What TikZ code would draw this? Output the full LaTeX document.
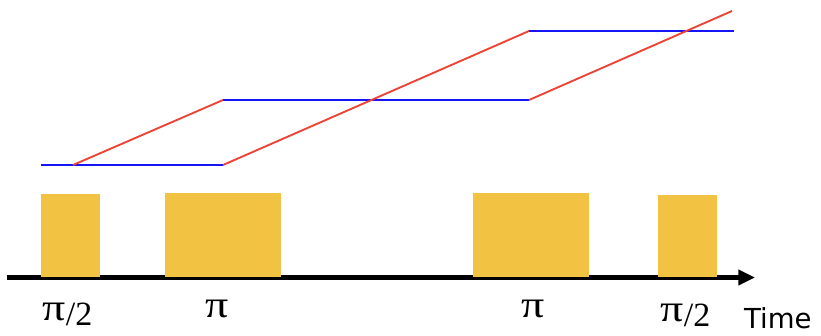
\documentclass[tikz,border=0pt]{standalone}
\usepackage{fontspec}
\setmainfont{Liberation Serif}
\newfontfamily\timefont{DejaVu Sans}
\usepackage{graphicx}
\usepackage{xcolor}
\usepackage{tikz}
\usetikzlibrary{arrows.meta}
\definecolor{pulsegold}{HTML}{F2C242}
\definecolor{armred}{HTML}{EC4335}
\definecolor{armblue}{HTML}{1414F5}
\newcommand{\pisym}{\scalebox{1.35}[1.12]{π}}

\begin{document}
\begin{tikzpicture}[x=0.03cm,y=-0.03cm]
\tikzstyle{pulse}=[fill=pulsegold,draw=none,inner sep=0,anchor=south west,minimum height=2.5cm]
\tikzstyle{lbl}=[anchor=base,inner sep=0,font=\fontsize{29}{31}\selectfont]
\tikzstyle{upper}=[armred,line width=1.6pt]
\tikzstyle{lower}=[armblue,line width=2pt]
\useasboundingbox (0,0) rectangle (821,335);
\coordinate (t0) at (7,277.5);
\coordinate (t1) at (755,277.5);
\draw[line width=0.15cm,-{Triangle[length=0.5cm,width=0.45cm]}] (t0) -- (t1);
\node[pulse,minimum width=1.77cm,minimum height=2.49cm] (p1) at (41,277) {};
\node[pulse,minimum width=3.48cm,minimum height=2.52cm] (p2) at (165,277) {};
\node[pulse,minimum width=3.48cm,minimum height=2.52cm] (p3) at (473,277) {};
\node[pulse,minimum width=1.77cm,minimum height=2.46cm] (p4) at (658,277) {};
\node[lbl] (l1) at (67.5,325) {\raisebox{0.12em}{\pisym}/2};
\node[lbl] (l2) at (217.5,317) {\pisym};
\node[lbl] (l3) at (533,317) {\pisym};
\node[lbl] (l4) at (685.5,326) {\raisebox{0.12em}{\pisym}/2};
\node[anchor=base west,inner sep=0,font=\timefont\fontsize{23.5}{26}\selectfont] (time) at (744,328) {Time};
\coordinate (a0) at (41,165);
\coordinate (a1) at (73,165);
\coordinate (b0) at (223,165);
\coordinate (b1) at (223,100);
\coordinate (c0) at (529,100);
\coordinate (c1) at (529,31);
\coordinate (d0) at (734,31);
\coordinate (d1) at (732,11);
\draw[lower] (a0) -- (b0);
\draw[lower] (b1) -- (c0);
\draw[lower] (c1) -- (d0);
\draw[upper] (a1) -- (b1);
\draw[upper] (b0) -- (c1);
\draw[upper] (c0) -- (d1);
\end{tikzpicture}
\end{document}
